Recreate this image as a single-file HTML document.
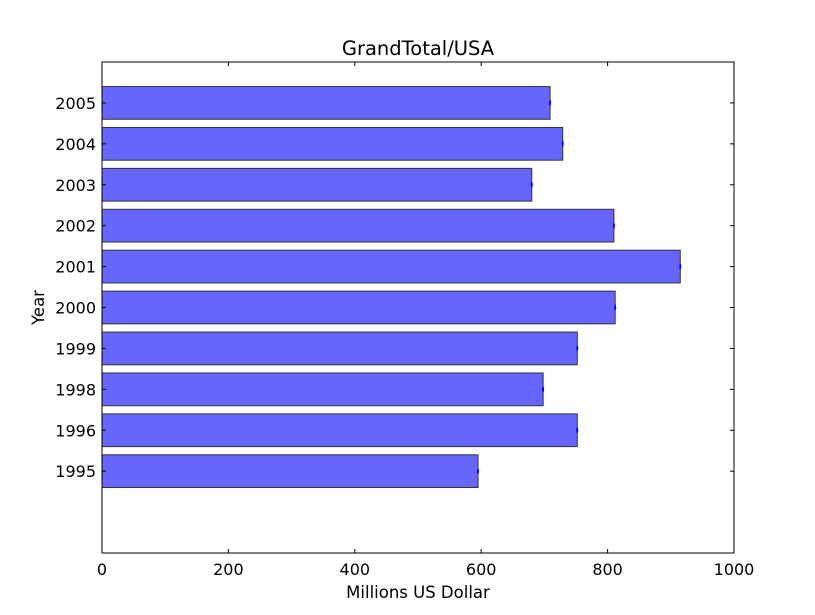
<!DOCTYPE html>
<html><head><meta charset="utf-8"><style>body{margin:0;background:#fff}svg{display:block}text{font-family:"DejaVu Sans","Liberation Sans",sans-serif;fill:#000}</style></head>
<body>
<svg id="chart" width="815" height="615" xmlns="http://www.w3.org/2000/svg">
<rect width="815" height="615" fill="#fff"/>
<g id="plot"></g>
</svg>
<script>
const categories=["1995","1996","1998","1999","2000","2001","2002","2003","2004","2005"];
const values=[595,752,698,752,812,915,810,680,729,709];
const xTicks=[0,200,400,600,800,1000];
const L=102,R=734,T=62,B=553;
const xMin=0,xMax=1000,yMin=-2,yMax=10;
const xs=v=>L+(v-xMin)/(xMax-xMin)*(R-L);
const ys=v=>B-(v-yMin)/(yMax-yMin)*(B-T);
const NS="http://www.w3.org/2000/svg";
const g=document.getElementById('plot');
function el(t,a){const e=document.createElementNS(NS,t);for(const k in a)e.setAttribute(k,a[k]);g.appendChild(e);return e;}
values.forEach((v,i)=>{
 const h=ys(0)-ys(0.8);
 const r=el('rect',{x:xs(0),y:ys(i)-h/2,width:xs(v)-xs(0),height:h,fill:'#6666ff',stroke:'#333','stroke-width':1});
 
 
 const e=el('ellipse',{cx:xs(v),cy:ys(i),rx:1,ry:3,fill:'#0000ff'});
 
 
 el('line',{x1:L,x2:L+4,y1:ys(i),y2:ys(i),stroke:'#000'});
 el('line',{x1:R,x2:R-4,y1:ys(i),y2:ys(i),stroke:'#000'});
 const t=el('text',{x:L-6,y:ys(i)+6,'text-anchor':'end','font-size':16});
 t.textContent=categories[i];
 
 
});
xTicks.forEach(v=>{
 el('line',{x1:xs(v),x2:xs(v),y1:B,y2:B-4,stroke:'#000'});
 el('line',{x1:xs(v),x2:xs(v),y1:T,y2:T+4,stroke:'#000'});
 const t=el('text',{x:xs(v),y:B+22,'text-anchor':'middle','font-size':16});
 t.textContent=v;
 
 
});
const f=el('rect',{x:L,y:T,width:R-L,height:B-T,fill:'none',stroke:'#000','stroke-width':1});


const tt=el('text',{x:(L+R)/2,y:55,'text-anchor':'middle','font-size':19.5});
tt.textContent='GrandTotal/USA';


const xl=el('text',{x:(L+R)/2,y:598,'text-anchor':'middle','font-size':16.5});
xl.textContent='Millions US Dollar';


const yl=el('text',{x:44,y:(T+B)/2,'text-anchor':'middle','font-size':16.5,transform:'rotate(-90 44 '+((T+B)/2)+')'});
yl.textContent='Year';


</script>
</body></html>
